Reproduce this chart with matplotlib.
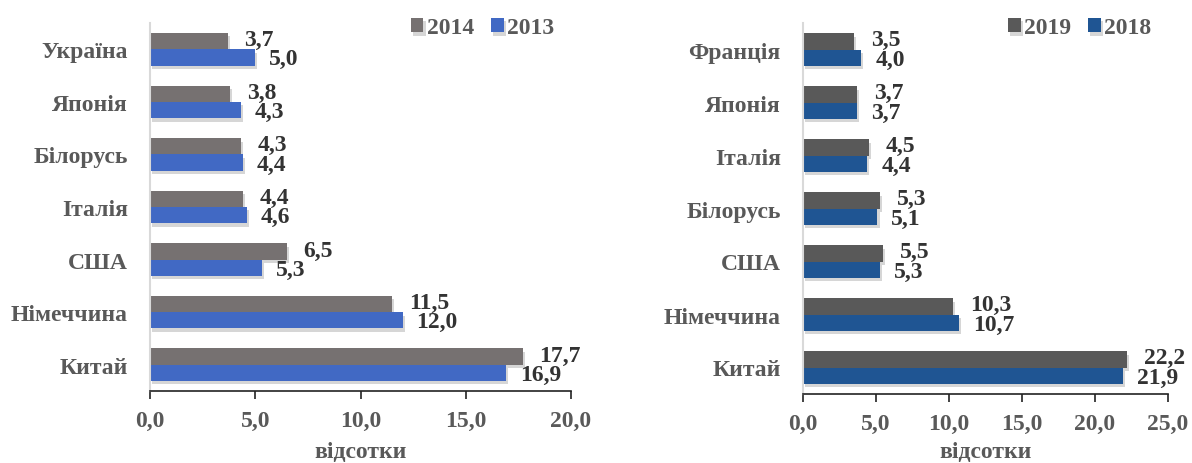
import numpy as np
import matplotlib.pyplot as plt
import matplotlib.patheffects as pe
from matplotlib.ticker import FuncFormatter

plt.rcParams['font.family'] = ['Liberation Serif', 'DejaVu Serif']
plt.rcParams['font.weight'] = 'bold'

# Ліва діаграма: 2013 / 2014
cats_left = ['Україна', 'Японія', 'Білорусь', 'Італія', 'США', 'Німеччина', 'Китай']
y2014 = [3.7, 3.8, 4.3, 4.4, 6.5, 11.5, 17.7]
y2013 = [5.0, 4.3, 4.4, 4.6, 5.3, 12.0, 16.9]

# Права діаграма: 2018 / 2019
cats_right = ['Франція', 'Японія', 'Італія', 'Білорусь', 'США', 'Німеччина', 'Китай']
y2019 = [3.5, 3.7, 4.5, 5.3, 5.5, 10.3, 22.2]
y2018 = [4.0, 3.7, 4.4, 5.1, 5.3, 10.7, 21.9]

fig = plt.figure(figsize=(11.92, 4.64), dpi=100)
ax1 = fig.add_axes([150/1192, 1 - 392/464, 421/1192, 368/464])
ax2 = fig.add_axes([803/1192, 1 - 395/464, 365/1192, 371/464])

shadow = [pe.SimplePatchShadow(offset=(1.5, -2.5), shadow_rgbFace='#8a8a8a', alpha=0.35), pe.Normal()]
fmt = FuncFormatter(lambda v, p: f'{v:.1f}'.replace('.', ','))


def draw(ax, cats, top_vals, bot_vals, top_lab, bot_lab, top_col, bot_col, xmax, xlab_pad):
    n = len(cats)
    pos = np.arange(n)[::-1]
    h = 0.31
    b1 = ax.barh(pos + h / 2, top_vals, height=h, color=top_col, label=top_lab)
    b2 = ax.barh(pos - h / 2, bot_vals, height=h, color=bot_col, label=bot_lab)
    for b in list(b1) + list(b2):
        b.set_path_effects(shadow)
    for p, v in zip(pos, top_vals):
        ax.annotate(f'{v:.1f}'.replace('.', ','), (v, p + h / 2), xytext=(12, 1),
                    textcoords='offset points', va='center', ha='left',
                    fontsize=17, fontweight='bold', color='#333333')
    for p, v in zip(pos, bot_vals):
        ax.annotate(f'{v:.1f}'.replace('.', ','), (v, p - h / 2), xytext=(10, -1),
                    textcoords='offset points', va='center', ha='left',
                    fontsize=17, fontweight='bold', color='#333333')
    ax.set_yticks(pos)
    ax.set_yticklabels(cats, fontsize=17, fontweight='bold', color='#595959')
    ax.set_ylim(-0.5, n - 0.5)
    ax.set_xlim(0, xmax)
    ax.set_xticks(np.arange(0, xmax + 0.1, 5))
    ax.xaxis.set_major_formatter(fmt)
    ax.tick_params(axis='x', labelsize=17, labelcolor='#595959', length=6, width=1.2,
                   color='#222222', pad=8)
    ax.tick_params(axis='y', length=0, pad=16)
    for lab in ax.get_xticklabels():
        lab.set_fontweight('bold')
    ax.set_xlabel('відсотки', fontsize=17, fontweight='bold', color='#595959', labelpad=xlab_pad)
    for s in ['top', 'right']:
        ax.spines[s].set_visible(False)
    ax.spines['left'].set_color('#d9d9d9')
    ax.spines['left'].set_linewidth(1.5)
    ax.spines['bottom'].set_color('#222222')
    ax.spines['bottom'].set_linewidth(1.2)
    leg = ax.legend(loc='upper right', ncol=2, frameon=False, fontsize=17,
                    handlelength=0.55, handleheight=0.55, handletextpad=0.15,
                    columnspacing=0.7, bbox_to_anchor=(1.0, 1.06), borderpad=0.2)
    for t in leg.get_texts():
        t.set_color('#595959')
        t.set_fontweight('bold')


draw(ax1, cats_left, y2014, y2013, '2014', '2013', '#767171', '#4169c4', 20, 7)
draw(ax2, cats_right, y2019, y2018, '2019', '2018', '#595959', '#1f5593', 25, 5)

plt.savefig('out.png', dpi=100)
